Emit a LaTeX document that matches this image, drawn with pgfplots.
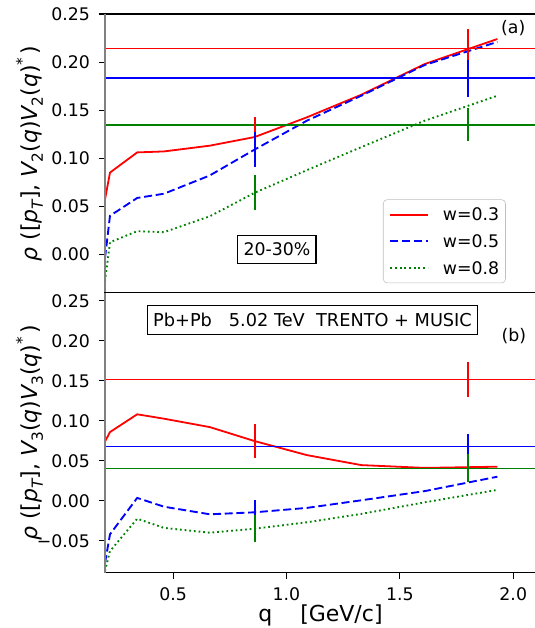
\documentclass[border=0pt]{standalone}
\usepackage{fontspec}
\setmainfont{DejaVu Sans}
\usepackage{pgfplots}
\pgfplotsset{compat=1.18}
\usepackage{pgfplotstable}
\definecolor{mgreen}{rgb}{0,0.5,0}

% panel (a): rho([pT], V2 V2*)
\pgfplotstableread{
q     r       b       g
0.2   0.057   -0.004  -0.028
0.222 0.085   0.040   0.0125
0.342 0.106   0.0586  0.024
0.46  0.107   0.063   0.023
0.662 0.113   0.082   0.0395
0.86  0.122   0.109   0.064
1.09  0.1425  0.139   0.0875
1.33  0.166   0.165   0.1115
1.61  0.198   0.197   0.139
1.93  0.224   0.221   0.165
}\topdata

% panel (b): rho([pT], V3 V3*)
\pgfplotstableread{
q     r       b        g
0.2   0.074   -0.078   -0.088
0.222 0.0858  -0.042   -0.063
0.342 0.108   0.0035   -0.0225
0.46  0.1025  -0.0075  -0.034
0.662 0.092   -0.017   -0.040
0.86  0.0745  -0.0145  -0.035
1.09  0.057   -0.009   -0.027
1.33  0.0445  0.0005   -0.0165
1.61  0.041   0.012    -0.002
1.93  0.0425  0.030    0.0135
}\botdata

\newcommand\lsub[1]{\raisebox{-0.25em}{\fontsize{11.5}{12}\selectfont #1}}
\newcommand\lsup[1]{\raisebox{0.45em}{\fontsize{11.5}{12}\selectfont #1}}
\newcommand\lblfont{\fontsize{16.5}{19}\selectfont}

\begin{document}
\begin{tikzpicture}
\useasboundingbox (0pt,0pt) rectangle (401.25pt,471pt);
\pgfplotsset{
  common/.style={
    scale only axis, width=323.2pt, anchor=south west,
    xmin=0.2, xmax=2.1,
    axis line style={line width=0.8pt},
    tick align=outside, major tick length=4.5pt,
    tick style={line width=0.8pt, black},
    xtick pos=bottom, ytick pos=left,
    /pgf/number format/assume math mode=true,
    tick label style={font=\fontsize{13}{15}\selectfont},
    yticklabel style={xshift=-3.2pt},
    xticklabel style={yshift=-3.4pt},
    every axis y label/.style={at={(axis description cs:-0.157,0.5)}, rotate=90, anchor=base, font=\lblfont},
    every axis x label/.style={at={(axis description cs:0.5,-0.1725)}, anchor=base, font=\lblfont},
    clip mode=individual,
  },
  rline/.style={red, line width=1.35pt, solid},
  bline/.style={blue, line width=1.4pt, dash pattern=on 6pt off 2.8pt},
  gline/.style={mgreen, line width=1.4pt, dash pattern=on 1.3pt off 2.2pt},
  hl/.style={line width=1.3pt},
}

% ---------- top panel ----------
\begin{axis}[common, at={(78.75pt,251.475pt)}, height=209pt,
  ymin=-0.04, ymax=0.25,
  ytick={0,0.05,0.1,0.15,0.2,0.25},
  yticklabels={0.00,0.05,0.10,0.15,0.20,0.25},
  xtick=\empty,
  ylabel={{\itshape ρ} ([{\itshape p}\lsub{\itshape T}], {\itshape V}\lsub{2}({\itshape q}){\itshape V}\lsub{2}({\itshape q})\lsup{*}\,)},
  legend cell align=left,
  legend image code/.code={\draw[#1] (0pt,0pt) -- (28pt,0pt);},
  legend style={at={(0.930,0.335)}, anchor=north east, draw=black!25,
    rounded corners=3pt, fill=white, font=\fontsize{13}{15}\selectfont,
    inner xsep=4.7pt, inner ysep=6.5pt, row sep=10.5pt, column sep=10.7pt,
    nodes={inner sep=0pt, text height=9.5pt, text depth=0pt}},
]
\addplot[rline, red] table[x=q, y=r] {\topdata};
\addlegendentry{w=0.3}
\addplot[bline, blue] table[x=q, y=b] {\topdata};
\addlegendentry{w=0.5}
\addplot[gline, mgreen] table[x=q, y=g] {\topdata};
\addlegendentry{w=0.8}
% horizontal reference values
\addplot[hl, red, forget plot] coordinates {(0.2,0.214) (2.1,0.214)};
\addplot[hl, blue, forget plot] coordinates {(0.2,0.1834) (2.1,0.1834)};
\addplot[hl, mgreen, forget plot] coordinates {(0.2,0.1348) (2.1,0.1348)};
% error bars
\addplot[hl, red, forget plot] coordinates {(0.86,0.101) (0.86,0.143)};
\addplot[hl, blue, forget plot] coordinates {(0.86,0.091) (0.86,0.127)};
\addplot[hl, mgreen, forget plot] coordinates {(0.86,0.046) (0.86,0.082)};
\addplot[hl, red, forget plot] coordinates {(1.8,0.193) (1.8,0.234)};
\addplot[hl, blue, forget plot] coordinates {(1.8,0.164) (1.8,0.202)};
\addplot[hl, mgreen, forget plot] coordinates {(1.8,0.118) (1.8,0.152)};
\draw[gray, line width=1.6pt] (rel axis cs:0,0) -- (rel axis cs:0,1);
\node[font=\fontsize{13}{15}\selectfont] at (axis cs:2.0,0.2355) {(a)};
\node[draw, line width=0.8pt, fill=white, inner xsep=4.25pt, inner ysep=6pt,
  text height=9.6pt, text depth=0pt, font=\fontsize{13}{15}\selectfont]
  at (axis cs:0.958,0.0049) {20-30\%};
\end{axis}

% ---------- bottom panel ----------
\begin{axis}[common, at={(78.75pt,41.475pt)}, height=210pt,
  ymin=-0.09, ymax=0.26,
  ytick={-0.05,0,0.05,0.1,0.15,0.2,0.25},
  yticklabels={−0.05,0.00,0.05,0.10,0.15,0.20,0.25},
  xtick={0.5,1.0,1.5,2.0},
  xticklabels={0.5,1.0,1.5,2.0},
  xlabel={q\ \ \ \ [GeV/c]},
  ylabel={{\itshape ρ} ([{\itshape p}\lsub{\itshape T}], {\itshape V}\lsub{3}({\itshape q}){\itshape V}\lsub{3}({\itshape q})\lsup{*}\,)},
]
\addplot[rline, red] table[x=q, y=r] {\botdata};
\addplot[bline, blue] table[x=q, y=b] {\botdata};
\addplot[gline, mgreen] table[x=q, y=g] {\botdata};
\addplot[hl, red] coordinates {(0.2,0.1516) (2.1,0.1516)};
\addplot[hl, blue] coordinates {(0.2,0.0679) (2.1,0.0679)};
\addplot[hl, mgreen] coordinates {(0.2,0.0404) (2.1,0.0404)};
\addplot[hl, red] coordinates {(0.86,0.0535) (0.86,0.0955)};
\addplot[hl, blue] coordinates {(0.86,-0.0295) (0.86,0.0005)};
\addplot[hl, mgreen] coordinates {(0.86,-0.052) (0.86,-0.018)};
\addplot[hl, red] coordinates {(1.8,0.130) (1.8,0.173)};
\addplot[hl, blue] coordinates {(1.8,0.052) (1.8,0.084)};
\addplot[hl, mgreen] coordinates {(1.8,0.023) (1.8,0.058)};
\draw[gray, line width=1.6pt] (rel axis cs:0,0) -- (rel axis cs:0,1);
\node[font=\fontsize{13}{15}\selectfont] at (axis cs:2.003,0.2054) {(b)};
\node[draw, line width=0.8pt, fill=white, inner xsep=4.5pt, inner ysep=5.8pt,
  text height=9.6pt, text depth=0pt, font=\fontsize{13.3}{15}\selectfont]
  at (axis cs:1.115,0.226) {Pb+Pb\ \ \ 5.02 TeV\ \ TRENTO + MUSIC};
\end{axis}
\end{tikzpicture}
\end{document}
